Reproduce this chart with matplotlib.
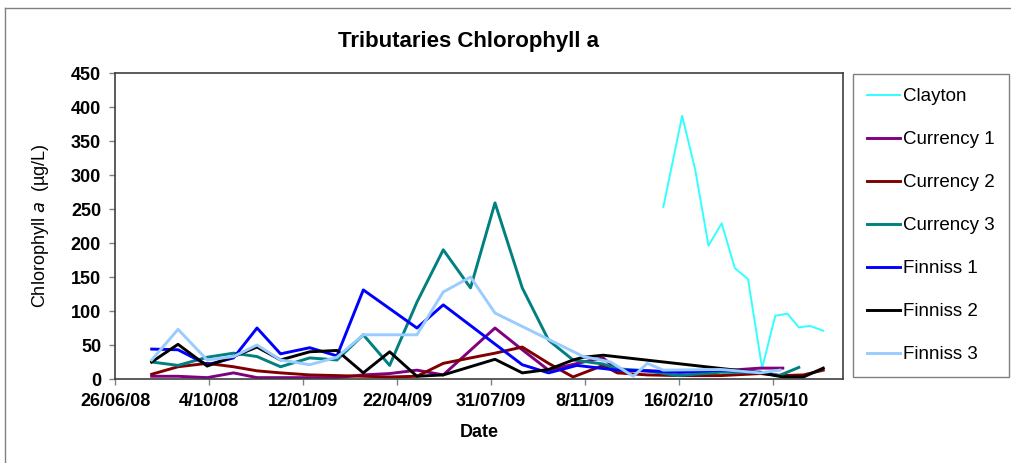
import numpy as np
import matplotlib
matplotlib.use("Agg")
import matplotlib.pyplot as plt
import matplotlib.dates as mdates
from matplotlib.lines import Line2D

plt.rcParams['font.family'] = ['Liberation Sans', 'DejaVu Sans']

start = np.datetime64('2008-06-26')

# sampling days counted from 26/06/08, values in ug/L
clayton_days = [583, 603, 617, 631, 645, 659, 673, 688, 702, 715, 727, 739, 753]
clayton_vals = [253, 387, 307, 196, 229, 163, 147, 16, 93, 96, 76, 78, 71]

currency1_days = [39, 67, 98, 126, 151, 176, 207, 236, 264, 292, 321, 349, 404, 433, 461, 498, 519, 534, 566, 600, 644, 686, 710]
currency1_vals = [4, 4, 2, 9, 2, 2, 2, 2, 6, 8, 13, 6, 75, 43, 13, 25, 31, 13, 12, 10, 12, 16, 16]

currency2_days = [39, 67, 98, 126, 151, 176, 207, 236, 264, 292, 321, 349, 378, 404, 433, 461, 487, 519, 534, 566, 600, 644, 686, 710, 732, 753]
currency2_vals = [7, 18, 23, 18, 12, 9, 6, 5, 4, 3, 4, 23, 31, 38, 47, 23, 3, 20, 9, 6, 5, 5, 8, 5, 6, 13]

currency3_days = [39, 67, 98, 126, 151, 176, 207, 236, 264, 292, 321, 349, 378, 404, 433, 461, 487, 519, 534, 566, 598, 644, 686, 706, 727]
currency3_vals = [25, 20, 32, 38, 33, 18, 31, 28, 65, 20, 113, 190, 134, 259, 134, 57, 28, 22, 15, 12, 5, 10, 10, 5, 17]

finniss1_days = [39, 67, 98, 126, 151, 176, 207, 236, 264, 321, 349, 433, 461, 491, 534, 566, 600, 644, 697]
finniss1_vals = [44, 43, 21, 31, 75, 37, 46, 34, 131, 75, 109, 21, 9, 20, 13, 12, 10, 13, 9]

finniss2_days = [39, 67, 98, 126, 151, 176, 207, 236, 264, 292, 321, 349, 404, 433, 461, 487, 498, 519, 686, 710, 732, 753]
finniss2_vals = [25, 51, 19, 33, 47, 28, 40, 42, 9, 40, 4, 6, 29, 9, 14, 28, 32, 35, 9, 3, 3, 16]

finniss3_days = [39, 67, 98, 126, 151, 176, 207, 236, 264, 321, 349, 378, 404, 498, 527, 551, 566, 583, 644, 686, 707]
finniss3_vals = [28, 73, 28, 33, 50, 28, 21, 32, 65, 65, 128, 150, 97, 33, 25, 4, 23, 13, 14, 9, 13]

series = [
    ("Clayton", clayton_days, clayton_vals, "#33FFFF", 1.4),
    ("Currency 1", currency1_days, currency1_vals, "#800080", 2.1),
    ("Currency 2", currency2_days, currency2_vals, "#800000", 2.1),
    ("Currency 3", currency3_days, currency3_vals, "#008080", 2.1),
    ("Finniss 1", finniss1_days, finniss1_vals, "#0000FF", 2.1),
    ("Finniss 2", finniss2_days, finniss2_vals, "#000000", 2.1),
    ("Finniss 3", finniss3_days, finniss3_vals, "#99CCFF", 2.1),
]

fig = plt.figure(figsize=(10.11, 4.63), dpi=100)
ax = fig.add_axes([115 / 1011, 1 - 379 / 463, (843 - 115) / 1011, (379 - 73) / 463])

for name, days, vals, col, lw in series:
    dates = start + np.array(days).astype('timedelta64[D]')
    ax.plot(dates.astype('datetime64[D]').astype(object), vals, color=col, lw=lw, label=name)

x0 = mdates.date2num(start.astype(object))
ax.set_xlim(x0, x0 + 774)
ax.set_xticks([x0 + 100 * i for i in range(8)])
ax.xaxis.set_major_formatter(plt.FuncFormatter(
    lambda v, p: f"{mdates.num2date(v).day}/{mdates.num2date(v):%m/%y}"))
ax.set_ylim(0, 450)
ax.set_yticks(range(0, 451, 50))

for s in ax.spines.values():
    s.set_color("#404040")
    s.set_linewidth(1.2)
ax.tick_params(direction='out', length=4, width=1, color="#808080", labelsize=13, pad=6)
for lab in ax.get_xticklabels() + ax.get_yticklabels():
    lab.set_fontweight('bold')

ax.set_ylabel("Chlorophyll $\\mathit{a}$  (\u00b5g/L)", fontsize=13, labelpad=14)
ax.set_xlabel("Date", fontsize=13, fontweight='bold', labelpad=10)
fig.text(468 / 1011, 1 - 42 / 463, "Tributaries Chlorophyll a", ha='center', va='center',
         fontsize=16, fontweight='bold')

leg = fig.legend(loc='upper left', bbox_to_anchor=(853 / 1011, 1 - 74 / 463),
                 fontsize=13.5, frameon=True, fancybox=False, edgecolor="#606060",
                 handlelength=1.75, handletextpad=0.15, labelspacing=1.38,
                 borderpad=0.75, borderaxespad=0)
leg.get_frame().set_linewidth(1.0)

# outer chart border (left and top only are visible)
fig.add_artist(Line2D([5 / 1011, 5 / 1011], [0, 1 - 8 / 463], color="#808080", lw=1))
fig.add_artist(Line2D([5 / 1011, 1], [1 - 8 / 463, 1 - 8 / 463], color="#808080", lw=1))

fig.savefig("out.png", dpi=100)
